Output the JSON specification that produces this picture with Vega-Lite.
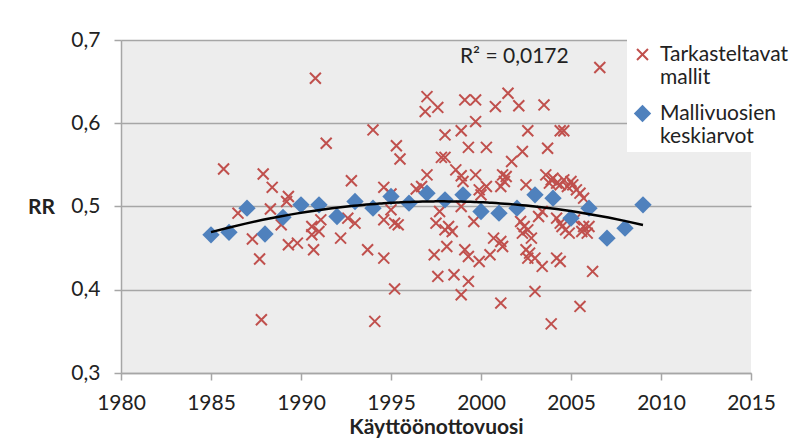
{
  "$schema": "https://vega.github.io/schema/vega-lite/v6.json",
  "width": 630,
  "height": 333,
  "autosize": {"type": "none"},
  "padding": {"left": 121, "top": 40, "right": 46, "bottom": 66},
  "background": "white",
  "config": {
    "view": {"fill": "#EDEDED", "stroke": null},
    "font": "Lato",
    "legend": {
      "orient": "none",
      "legendX": 506,
      "legendY": -1,
      "title": null,
      "fillColor": "white",
      "padding": 5,
      "labelFont": "Lato",
      "labelFontSize": 21,
      "labelColor": "#222222",
      "labelBaseline": "middle",
      "labelOffset": 7,
      "labelLimit": 300,
      "symbolStrokeWidth": 2,
      "symbolOpacity": 1,
      "rowPadding": 12
    }
  },
  "datasets": {
    "pts": [
      {"year": 1985.7, "rr": 0.545, "s": "T"}, {"year": 1986.5, "rr": 0.492, "s": "T"}, {"year": 1987.3, "rr": 0.461, "s": "T"}, {"year": 1987.7, "rr": 0.437, "s": "T"},
      {"year": 1987.8, "rr": 0.364, "s": "T"}, {"year": 1987.9, "rr": 0.539, "s": "T"}, {"year": 1988.4, "rr": 0.523, "s": "T"}, {"year": 1988.3, "rr": 0.497, "s": "T"},
      {"year": 1988.9, "rr": 0.478, "s": "T"}, {"year": 1989.3, "rr": 0.512, "s": "T"}, {"year": 1989.2, "rr": 0.506, "s": "T"}, {"year": 1989.3, "rr": 0.454, "s": "T"},
      {"year": 1989.8, "rr": 0.456, "s": "T"}, {"year": 1990.6, "rr": 0.476, "s": "T"}, {"year": 1991.0, "rr": 0.470, "s": "T"}, {"year": 1990.6, "rr": 0.466, "s": "T"},
      {"year": 1991.1, "rr": 0.484, "s": "T"}, {"year": 1990.7, "rr": 0.448, "s": "T"}, {"year": 1990.8, "rr": 0.654, "s": "T"}, {"year": 1991.4, "rr": 0.576, "s": "T"},
      {"year": 1992.2, "rr": 0.462, "s": "T"}, {"year": 1992.6, "rr": 0.486, "s": "T"}, {"year": 1992.8, "rr": 0.531, "s": "T"}, {"year": 1993.0, "rr": 0.480, "s": "T"},
      {"year": 1993.7, "rr": 0.448, "s": "T"}, {"year": 1994.0, "rr": 0.592, "s": "T"}, {"year": 1994.1, "rr": 0.362, "s": "T"}, {"year": 1994.6, "rr": 0.438, "s": "T"},
      {"year": 1994.6, "rr": 0.523, "s": "T"}, {"year": 1995.0, "rr": 0.515, "s": "T"}, {"year": 1994.6, "rr": 0.484, "s": "T"}, {"year": 1995.0, "rr": 0.496, "s": "T"},
      {"year": 1995.2, "rr": 0.480, "s": "T"}, {"year": 1995.4, "rr": 0.478, "s": "T"}, {"year": 1995.2, "rr": 0.401, "s": "T"}, {"year": 1995.3, "rr": 0.573, "s": "T"},
      {"year": 1995.5, "rr": 0.557, "s": "T"}, {"year": 1996.4, "rr": 0.521, "s": "T"}, {"year": 1996.7, "rr": 0.524, "s": "T"}, {"year": 1996.9, "rr": 0.614, "s": "T"},
      {"year": 1997.0, "rr": 0.632, "s": "T"}, {"year": 1997.0, "rr": 0.538, "s": "T"}, {"year": 1997.5, "rr": 0.480, "s": "T"}, {"year": 1997.4, "rr": 0.442, "s": "T"},
      {"year": 1997.6, "rr": 0.416, "s": "T"}, {"year": 1997.6, "rr": 0.619, "s": "T"}, {"year": 1997.7, "rr": 0.494, "s": "T"}, {"year": 1997.8, "rr": 0.559, "s": "T"},
      {"year": 1998.0, "rr": 0.559, "s": "T"}, {"year": 1998.0, "rr": 0.586, "s": "T"}, {"year": 1998.0, "rr": 0.472, "s": "T"}, {"year": 1998.2, "rr": 0.476, "s": "T"},
      {"year": 1998.4, "rr": 0.470, "s": "T"}, {"year": 1998.1, "rr": 0.452, "s": "T"}, {"year": 1998.5, "rr": 0.418, "s": "T"}, {"year": 1998.6, "rr": 0.544, "s": "T"},
      {"year": 1998.9, "rr": 0.537, "s": "T"}, {"year": 1998.9, "rr": 0.591, "s": "T"}, {"year": 1998.9, "rr": 0.500, "s": "T"}, {"year": 1998.9, "rr": 0.394, "s": "T"},
      {"year": 1999.0, "rr": 0.530, "s": "T"}, {"year": 1999.1, "rr": 0.628, "s": "T"}, {"year": 1999.1, "rr": 0.448, "s": "T"}, {"year": 1999.3, "rr": 0.440, "s": "T"},
      {"year": 1999.3, "rr": 0.410, "s": "T"}, {"year": 1999.3, "rr": 0.571, "s": "T"}, {"year": 1999.6, "rr": 0.482, "s": "T"}, {"year": 1999.7, "rr": 0.628, "s": "T"},
      {"year": 1999.7, "rr": 0.602, "s": "T"}, {"year": 1999.7, "rr": 0.538, "s": "T"}, {"year": 1999.9, "rr": 0.520, "s": "T"}, {"year": 1999.9, "rr": 0.434, "s": "T"},
      {"year": 2000.0, "rr": 0.514, "s": "T"}, {"year": 2000.3, "rr": 0.571, "s": "T"}, {"year": 2000.3, "rr": 0.524, "s": "T"}, {"year": 2000.5, "rr": 0.442, "s": "T"},
      {"year": 2000.7, "rr": 0.462, "s": "T"}, {"year": 2000.8, "rr": 0.620, "s": "T"}, {"year": 2001.1, "rr": 0.458, "s": "T"}, {"year": 2001.2, "rr": 0.452, "s": "T"},
      {"year": 2001.1, "rr": 0.384, "s": "T"}, {"year": 2001.1, "rr": 0.524, "s": "T"}, {"year": 2001.2, "rr": 0.538, "s": "T"}, {"year": 2001.3, "rr": 0.530, "s": "T"},
      {"year": 2001.4, "rr": 0.536, "s": "T"}, {"year": 2001.5, "rr": 0.636, "s": "T"}, {"year": 2001.7, "rr": 0.554, "s": "T"}, {"year": 2002.1, "rr": 0.621, "s": "T"},
      {"year": 2002.2, "rr": 0.482, "s": "T"}, {"year": 2002.3, "rr": 0.468, "s": "T"}, {"year": 2002.3, "rr": 0.566, "s": "T"}, {"year": 2002.4, "rr": 0.476, "s": "T"},
      {"year": 2002.5, "rr": 0.526, "s": "T"}, {"year": 2002.5, "rr": 0.448, "s": "T"}, {"year": 2002.6, "rr": 0.591, "s": "T"}, {"year": 2002.6, "rr": 0.472, "s": "T"},
      {"year": 2002.6, "rr": 0.438, "s": "T"}, {"year": 2002.7, "rr": 0.444, "s": "T"}, {"year": 2002.8, "rr": 0.462, "s": "T"}, {"year": 2003.0, "rr": 0.438, "s": "T"},
      {"year": 2003.0, "rr": 0.398, "s": "T"}, {"year": 2003.2, "rr": 0.488, "s": "T"}, {"year": 2003.4, "rr": 0.494, "s": "T"}, {"year": 2003.4, "rr": 0.428, "s": "T"},
      {"year": 2003.5, "rr": 0.622, "s": "T"}, {"year": 2003.6, "rr": 0.538, "s": "T"}, {"year": 2003.7, "rr": 0.570, "s": "T"}, {"year": 2003.8, "rr": 0.528, "s": "T"},
      {"year": 2003.9, "rr": 0.532, "s": "T"}, {"year": 2003.9, "rr": 0.359, "s": "T"}, {"year": 2004.0, "rr": 0.534, "s": "T"}, {"year": 2004.2, "rr": 0.486, "s": "T"},
      {"year": 2004.2, "rr": 0.528, "s": "T"}, {"year": 2004.2, "rr": 0.438, "s": "T"}, {"year": 2004.4, "rr": 0.591, "s": "T"}, {"year": 2004.4, "rr": 0.480, "s": "T"},
      {"year": 2004.4, "rr": 0.434, "s": "T"}, {"year": 2004.4, "rr": 0.526, "s": "T"}, {"year": 2004.5, "rr": 0.476, "s": "T"}, {"year": 2004.6, "rr": 0.591, "s": "T"},
      {"year": 2004.6, "rr": 0.532, "s": "T"}, {"year": 2004.7, "rr": 0.472, "s": "T"}, {"year": 2004.8, "rr": 0.524, "s": "T"}, {"year": 2004.9, "rr": 0.468, "s": "T"},
      {"year": 2005.0, "rr": 0.530, "s": "T"}, {"year": 2005.1, "rr": 0.526, "s": "T"}, {"year": 2005.2, "rr": 0.484, "s": "T"}, {"year": 2005.3, "rr": 0.520, "s": "T"},
      {"year": 2005.5, "rr": 0.516, "s": "T"}, {"year": 2005.5, "rr": 0.380, "s": "T"}, {"year": 2005.6, "rr": 0.470, "s": "T"}, {"year": 2005.7, "rr": 0.476, "s": "T"},
      {"year": 2005.7, "rr": 0.510, "s": "T"}, {"year": 2005.9, "rr": 0.468, "s": "T"}, {"year": 2006.0, "rr": 0.476, "s": "T"}, {"year": 2006.2, "rr": 0.422, "s": "T"},
      {"year": 2006.6, "rr": 0.667, "s": "T"},
      {"year": 1985, "rr": 0.466, "s": "M"}, {"year": 1986, "rr": 0.469, "s": "M"}, {"year": 1987, "rr": 0.498, "s": "M"}, {"year": 1988, "rr": 0.467, "s": "M"},
      {"year": 1989, "rr": 0.487, "s": "M"}, {"year": 1990, "rr": 0.502, "s": "M"}, {"year": 1991, "rr": 0.502, "s": "M"}, {"year": 1992, "rr": 0.488, "s": "M"},
      {"year": 1993, "rr": 0.506, "s": "M"}, {"year": 1994, "rr": 0.498, "s": "M"}, {"year": 1995, "rr": 0.512, "s": "M"}, {"year": 1996, "rr": 0.504, "s": "M"},
      {"year": 1997, "rr": 0.516, "s": "M"}, {"year": 1998, "rr": 0.508, "s": "M"}, {"year": 1999, "rr": 0.514, "s": "M"}, {"year": 2000, "rr": 0.494, "s": "M"},
      {"year": 2001, "rr": 0.492, "s": "M"}, {"year": 2002, "rr": 0.498, "s": "M"}, {"year": 2003, "rr": 0.514, "s": "M"}, {"year": 2004, "rr": 0.510, "s": "M"},
      {"year": 2005, "rr": 0.486, "s": "M"}, {"year": 2006, "rr": 0.498, "s": "M"}, {"year": 2007, "rr": 0.462, "s": "M"}, {"year": 2008, "rr": 0.474, "s": "M"},
      {"year": 2009, "rr": 0.502, "s": "M"}
    ],
    "trend": [
      {"year": 1985, "rr": 0.469}, {"year": 1989, "rr": 0.489}, {"year": 1993, "rr": 0.501}, {"year": 1997, "rr": 0.506},
      {"year": 2001, "rr": 0.504}, {"year": 2005, "rr": 0.494}, {"year": 2009, "rr": 0.478}
    ],
    "lab": [{"year": 2001.85, "rr": 0.679, "t": "R² = 0,0172"}]
  },
  "layer": [
    {
      "data": {"name": "pts"},
      "mark": {"type": "point", "strokeWidth": 2, "opacity": 1},
      "encoding": {
        "x": {
          "field": "year", "type": "quantitative",
          "scale": {"domain": [1980, 2015], "nice": false, "zero": false},
          "axis": {
            "values": [1980, 1985, 1990, 1995, 2000, 2005, 2010, 2015],
            "format": "d", "grid": false,
            "domainColor": "#A6A6A6", "domainWidth": 1.5,
            "tickColor": "#A6A6A6", "tickWidth": 1.5, "tickSize": 7,
            "labelFont": "Lato", "labelFontSize": 21, "labelColor": "#222222", "labelPadding": 12,
            "labelFlush": false, "labelOverlap": false,
            "title": "Käyttöönottovuosi", "titleFont": "Lato", "titleFontSize": 21,
            "titleFontWeight": "bold", "titleColor": "#222222", "titlePadding": 3
          }
        },
        "y": {
          "field": "rr", "type": "quantitative",
          "scale": {"domain": [0.3, 0.7], "nice": false, "zero": false},
          "axis": {
            "values": [0.3, 0.4, 0.5, 0.6, 0.7],
            "labelExpr": "replace(format(datum.value, '.1f'), '.', ',')",
            "grid": true, "gridColor": "#A6A6A6", "gridWidth": 1.5,
            "domainColor": "#A6A6A6", "domainWidth": 1.5,
            "tickColor": "#A6A6A6", "tickWidth": 1.5, "tickSize": 7,
            "labelFont": "Lato", "labelFontSize": 21, "labelColor": "#222222", "labelPadding": 14,
            "title": "RR", "titleFont": "Lato", "titleFontSize": 21, "titleFontWeight": "bold",
            "titleColor": "#222222", "titleAngle": 0, "titleX": -80, "titleY": 167,
            "titleAlign": "center", "titleBaseline": "middle"
          }
        },
        "shape": {
          "field": "s", "type": "nominal",
          "scale": {"domain": ["T", "M"], "range": ["M-1,-1L1,1M-1,1L1,-1", "diamond"]},
          "legend": {"labelExpr": "datum.label == 'T' ? ['Tarkasteltavat', 'mallit'] : ['Mallivuosien', 'keskiarvot']"}
        },
        "fill": {
          "field": "s", "type": "nominal",
          "scale": {"domain": ["T", "M"], "range": ["transparent", "#4F81BD"]},
          "legend": {"labelExpr": "datum.label == 'T' ? ['Tarkasteltavat', 'mallit'] : ['Mallivuosien', 'keskiarvot']"}
        },
        "stroke": {
          "field": "s", "type": "nominal",
          "scale": {"domain": ["T", "M"], "range": ["#C0504D", "transparent"]},
          "legend": {"labelExpr": "datum.label == 'T' ? ['Tarkasteltavat', 'mallit'] : ['Mallivuosien', 'keskiarvot']"}
        },
        "size": {
          "field": "s", "type": "nominal",
          "scale": {"domain": ["T", "M"], "range": [120, 300]},
          "legend": {"labelExpr": "datum.label == 'T' ? ['Tarkasteltavat', 'mallit'] : ['Mallivuosien', 'keskiarvot']"}
        }
      }
    },
    {
      "data": {"name": "trend"},
      "transform": [{"regression": "rr", "on": "year", "method": "poly", "order": 2, "extent": [1985, 2009]}],
      "mark": {"type": "line", "color": "black", "strokeWidth": 2.5},
      "encoding": {
        "x": {"field": "year", "type": "quantitative"},
        "y": {"field": "rr", "type": "quantitative"}
      }
    },
    {
      "data": {"name": "lab"},
      "mark": {"type": "text", "font": "Lato", "fontSize": 21, "color": "#222222", "align": "center", "baseline": "middle"},
      "encoding": {
        "x": {"field": "year", "type": "quantitative"},
        "y": {"field": "rr", "type": "quantitative"},
        "text": {"field": "t", "type": "nominal"}
      }
    }
  ]
}
